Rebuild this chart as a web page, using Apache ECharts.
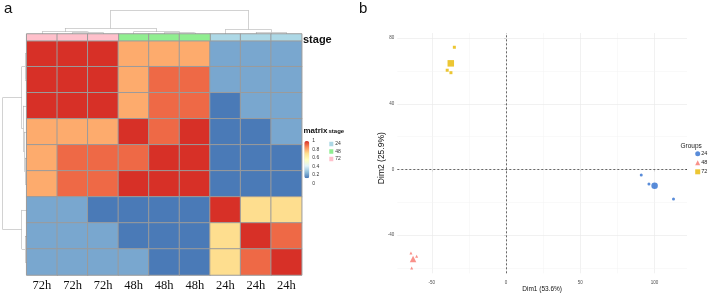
<!DOCTYPE html>
<html><head><meta charset="utf-8">
<script src="https://cdn.jsdelivr.net/npm/echarts@6/dist/echarts.min.js"></script>
<style>html,body{margin:0;padding:0;background:#fff}#c{width:708px;height:294px}</style>
</head><body><div id="c"></div>
<script>
// ---------- Panel a: heatmap data ----------
const colLabels = ['72h','72h','72h','48h','48h','48h','24h','24h','24h'];
const colStage  = ['72','72','72','48','48','48','24','24','24'];
const stageNames = ['24','48','72'];
const stageColors = ['#ADD8E6','#90EE90','#FFC0CB'];
const matrix = [
  [1.00,1.00,1.00,0.80,0.80,0.80,0.22,0.22,0.22],
  [1.00,1.00,1.00,0.80,0.91,0.91,0.22,0.22,0.22],
  [1.00,1.00,1.00,0.80,0.91,0.91,0.13,0.22,0.22],
  [0.80,0.80,0.80,1.00,0.91,1.00,0.13,0.13,0.22],
  [0.80,0.91,0.91,0.91,1.00,1.00,0.13,0.13,0.13],
  [0.80,0.91,0.91,1.00,1.00,1.00,0.13,0.13,0.13],
  [0.22,0.22,0.13,0.13,0.13,0.13,1.00,0.71,0.71],
  [0.22,0.22,0.22,0.13,0.13,0.13,0.71,1.00,0.91],
  [0.22,0.22,0.22,0.22,0.13,0.13,0.71,0.91,1.00]
];
const scaleMin = 0.12, scaleMax = 1;
const palette = ['#4575B4','#91BFDB','#E0F3F8','#FFFFBF','#FEE090','#FC8D59','#D73027'];
// dendrograms: [a, b, height]; negative = leaf (1-based), positive = earlier merge (1-based)
const colMerges = [[-2,-3,1.7],[-1,1,2.3],[-5,-6,1.3],[-4,3,2.3],[-8,-9,1.7],[-7,5,4.7],[2,4,5.7],[7,6,24]];
const rowMerges = [[-1,-2,1.7],[-5,-6,1.7],[-4,2,2.5],[-3,3,3.5],[1,4,5.0],[-8,-9,1.7],[-7,6,5.0],[5,7,24]];

// ---------- Panel b: PCA data ----------
const groups = ['24','48','72'];
const groupColors = ['#2F6FD0','#F8766D','#E7B800'];
const groupSymbols = ['circle','triangle','rect'];
const groupPoints = [
  [[91.0,-3.3],[96.2,-8.8],[112.7,-18.0]],
  [[-64.0,-50.9],[-60.2,-52.9],[-63.5,-60.1]],
  [[-34.8,74.5],[-39.6,60.5],[-37.1,59.0]]
];
const groupMeans = [[100.0,-10.0],[-62.6,-54.6],[-37.2,64.7]];
const xTicks = [-50,0,50,100];
const yTicks = [-40,0,40,80];
const xMinor = [-25,25,75];
const yMinor = [-60,-20,20,60];

function dendroSegments(merges){
  const pos=[], hgt=[], segs=[];
  const P = a => a<0 ? (-a-1)+0.5 : pos[a-1];
  const H = a => a<0 ? 0 : hgt[a-1];
  merges.forEach(([a,b,h],i)=>{
    const pa=P(a), pb=P(b), ha=H(a), hb=H(b);
    segs.push([[pa,ha],[pa,h]],[[pa,h],[pb,h]],[[pb,h],[pb,hb]]);
    pos[i]=(pa+pb)/2; hgt[i]=h;
  });
  return segs;
}

const heatData = [];
matrix.forEach((row,r)=>row.forEach((v,c)=>heatData.push([c,r,v])));

const SANS = 'Liberation Sans, Arial, sans-serif';
const SERIF = 'Liberation Serif, Times New Roman, serif';
const dendroStyle = {color:'#8e8e8e', width:0.8};

const hidden = {show:false};
const series = [];
series.push({
  type:'heatmap', xAxisIndex:0, yAxisIndex:0, data:heatData,
  itemStyle:{borderColor:'#9b9b9b', borderWidth:1},
  emphasis:{disabled:true}, silent:true
});
stageNames.forEach((s,i)=>{
  series.push({
    type:'heatmap', name:s+' ', xAxisIndex:1, yAxisIndex:1,
    data: colStage.map((st,c)=>st===s?[c,0,1]:null).filter(d=>d),
    itemStyle:{color:stageColors[i], borderColor:'#9b9b9b', borderWidth:1},
    emphasis:{disabled:true}, silent:true
  });
});
series.push({
  type:'lines', coordinateSystem:'cartesian2d', xAxisIndex:2, yAxisIndex:2, silent:true,
  data: dendroSegments(colMerges).map(s=>({coords:s})), lineStyle:dendroStyle
});
series.push({
  type:'lines', coordinateSystem:'cartesian2d', xAxisIndex:3, yAxisIndex:3, silent:true,
  data: dendroSegments(rowMerges).map(s=>({coords:s.map(p=>[p[1],p[0]])})), lineStyle:dendroStyle
});

const gridLines = [];
xTicks.forEach(v=>gridLines.push({xAxis:v, lineStyle:{color:'#EBEBEB', width:0.7, type:'solid'}}));
xMinor.forEach(v=>gridLines.push({xAxis:v, lineStyle:{color:'#F3F3F3', width:0.5, type:'solid'}}));
yTicks.forEach(v=>gridLines.push({yAxis:v, lineStyle:{color:'#EBEBEB', width:0.7, type:'solid'}}));
yMinor.forEach(v=>gridLines.push({yAxis:v, lineStyle:{color:'#F3F3F3', width:0.5, type:'solid'}}));
gridLines.push({xAxis:0, lineStyle:{color:'#444', width:0.8, type:[2,2]}});
gridLines.push({yAxis:0, lineStyle:{color:'#444', width:0.8, type:[2,2]}});

groups.forEach((g,i)=>{
  const data = groupPoints[i].map(p=>({value:p, symbolSize:3}));
  data.push({value:groupMeans[i], symbolSize:6.5});
  const s = {
    type:'scatter', name:g, xAxisIndex:5, yAxisIndex:5, symbol:groupSymbols[i],
    itemStyle:{color:groupColors[i]}, data, silent:true
  };
  if(i===0){
    s.markLine = {silent:true, symbol:['none','none'], label:{show:false}, z:1,
      emphasis:{disabled:true}, data:gridLines};
  }
  series.push(s);
});

const G = (o)=>Object.assign({outerBoundsMode:'none', containLabel:false}, o);
const option = {
  animation:false,
  textStyle:{fontFamily:SANS},
  title:[
    {text:'a', left:4, top:1, padding:0, textStyle:{fontSize:15, fontWeight:'normal', color:'#111', fontFamily:SANS}},
    {text:'b', left:359, top:1, padding:0, textStyle:{fontSize:15, fontWeight:'normal', color:'#111', fontFamily:SANS}},
    {text:'stage', left:303, top:34, padding:0, textStyle:{fontSize:11, fontWeight:'bold', color:'#111', fontFamily:SANS}},
    {text:'matrix', left:303.5, top:127, padding:0, textStyle:{fontSize:8, fontWeight:'bold', color:'#111', fontFamily:SANS}},
    {text:'stage', left:328.5, top:128.5, padding:0, textStyle:{fontSize:6, fontWeight:'bold', color:'#111', fontFamily:SANS}},
    {text:'Groups', left:680.5, top:142.5, padding:0, textStyle:{fontSize:6.5, fontWeight:'normal', color:'#222', fontFamily:SANS}}
  ],
  legend:[
    {data:stageNames.map(s=>s+' '), orient:'vertical', left:329.3, top:141.5, itemWidth:4, itemHeight:4.5, itemGap:2.5,
     icon:'rect', selectedMode:false, padding:0, itemStyle:{borderWidth:0},
     textStyle:{fontSize:5, color:'#333', fontFamily:SANS, padding:[0,0,0,-3]}},
    {data:groups, orient:'vertical', left:695.2, top:150.8, itemWidth:5, itemHeight:5, itemGap:3,
     selectedMode:false, padding:0,
     textStyle:{fontSize:5.5, color:'#222', fontFamily:SANS, padding:[0,0,0,-4]}}
  ],
  visualMap:{
    type:'continuous', seriesIndex:0, min:scaleMin, max:scaleMax, calculable:false,
    inRange:{color:palette}, orient:'vertical', left:304.3, top:141, itemWidth:5, itemHeight:37.3,
    padding:0, text:null, hoverLink:false
  },
  grid:[
    G({left:26.7, top:40.7, width:275, height:234.3}),
    G({left:26.7, top:34, width:275, height:6.7}),
    G({left:26.7, top:10, width:275, height:24}),
    G({left:2.7, top:40.7, width:24, height:234.3}),
    G({left:304.3, top:141, width:5, height:42.3}),
    G({left:397.3, top:33, width:289.7, height:240.3})
  ],
  xAxis:[
    {type:'category', gridIndex:0, data:colLabels, axisLine:hidden, axisTick:hidden, splitLine:hidden,
     axisLabel:{interval:0, margin:4, fontSize:12.5, color:'#111', fontFamily:SERIF}},
    {type:'category', gridIndex:1, data:colLabels, show:false},
    {type:'value', gridIndex:2, min:0, max:9, show:false},
    {type:'value', gridIndex:3, min:0, max:24, inverse:true, show:false},
    {type:'value', gridIndex:4, min:0, max:1, show:false},
    {type:'value', gridIndex:5, min:-73.2, max:121.8, splitLine:hidden, axisLine:hidden,
     axisTick:{show:true, customValues:xTicks, length:2, lineStyle:{color:'#444', width:0.5}},
     axisLabel:{customValues:xTicks, fontSize:4.5, color:'#4d4d4d', margin:6.5},
     name:'Dim1 (53.6%)', nameLocation:'middle', nameGap:12.5, nameMoveOverlap:false,
     nameTextStyle:{fontSize:6.5, color:'#111', fontFamily:SANS}}
  ],
  yAxis:[
    {type:'category', gridIndex:0, data:matrix.map((r,i)=>'r'+i), inverse:true, show:false},
    {type:'category', gridIndex:1, data:['stage'], show:false},
    {type:'value', gridIndex:2, min:0, max:24, show:false},
    {type:'value', gridIndex:3, min:0, max:9, inverse:true, show:false},
    {type:'value', gridIndex:4, min:0, max:1, interval:0.2, position:'right',
     axisLine:hidden, axisTick:hidden, splitLine:hidden,
     axisLabel:{fontSize:5, color:'#333', margin:3, fontFamily:SANS}},
    {type:'value', gridIndex:5, min:-63.3, max:83.2, splitLine:hidden, axisLine:hidden,
     axisTick:{show:true, customValues:yTicks, length:2, lineStyle:{color:'#444', width:0.5}},
     axisLabel:{customValues:yTicks, fontSize:4.5, color:'#4d4d4d', margin:3},
     name:'Dim2 (25.9%)', nameLocation:'middle', nameGap:11.5, nameRotate:90, nameMoveOverlap:false,
     nameTextStyle:{fontSize:8.5, color:'#111', fontFamily:SANS, padding:[0,10,0,0]}}
  ],
  series
};
const chart = echarts.init(document.getElementById('c'), null, {renderer:'canvas'});
chart.setOption(option);
</script></body></html>
